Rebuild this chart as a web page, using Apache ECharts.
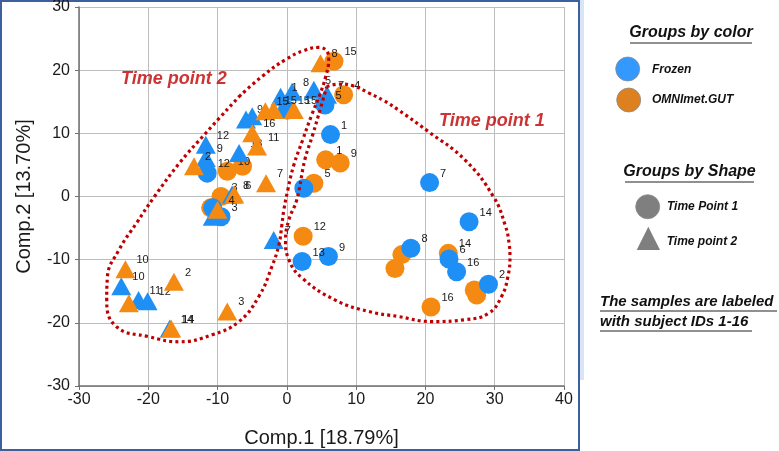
<!DOCTYPE html>
<html>
<head>
<meta charset="utf-8">
<script src="https://cdn.jsdelivr.net/npm/echarts@6/dist/echarts.min.js"></script>
<style>html,body{margin:0;padding:0;background:#fff}#c{width:779px;height:451px}</style>
</head>
<body>
<div id="c"></div>
<script>
// x, y, subject ID
const frozenTP1 = [
  [6.3, 9.8, '1'], [5.5, 14.5, '5'], [0.05, 13.7, '15'], [2.45, 1.3, ''],
  [-11.5, 3.7, '12'], [-10.7, -1.8, ''], [-9.5, -3.2, '3'], [2.2, -10.3, '13'],
  [6.0, -9.5, '9'], [17.9, -8.2, '8'], [20.6, 2.2, '7'], [26.3, -4.0, '14'],
  [23.4, -9.9, '6'], [24.5, -11.9, '16'], [29.1, -13.9, '2']
];
const omniTP1 = [
  [6.8, 21.4, '15'], [8.2, 16.1, '4'], [5.6, 5.8, '1'], [7.7, 5.3, '9'],
  [3.9, 2.1, '5'], [-8.6, 4.0, '10'], [-6.4, 4.8, ''], [-9.5, 0.0, '3'],
  [-11.0, -1.8, ''], [2.35, -6.3, '12'], [15.6, -11.4, ''], [16.6, -9.2, '8'],
  [23.3, -9.0, '14'], [27.05, -14.8, '6'], [27.4, -15.6, '2'], [20.8, -17.5, '16']
];
const frozenTP2 = [
  [0.76, 16.6, '8'], [3.9, 16.9, '5'], [5.8, 16.1, '7'], [-0.9, 15.8, '1'],
  [-5.0, 12.7, ''], [-5.9, 12.2, '9'], [-11.7, 8.2, '12'], [-11.7, 6.1, '9'],
  [-6.9, 6.9, '13'], [-7.9, 0.3, '8'], [-10.7, -3.2, ''], [-1.9, -6.9, '7'],
  [-23.9, -14.2, '10'], [-21.4, -16.4, '11'], [-20.1, -16.6, '12'], [-16.9, -20.9, '14']
];
const omniTP2 = [
  [4.85, 21.1, '8'], [1.0, 13.7, '15'], [-3.1, 13.5, '15'], [-1.9, 13.7, '15'],
  [-5.0, 10.0, '16'], [-4.3, 7.9, '11'], [-3.0, 2.1, '7'], [-13.4, 4.8, '2'],
  [-7.6, 0.3, '6'], [-10.0, -2.1, '4'], [-23.3, -11.5, '10'], [-22.8, -16.9, ''],
  [-16.3, -13.5, '2'], [-16.7, -20.9, '14'], [-8.6, -18.2, '3']
];
// outlines of the dotted groupings (data coordinates)
const outlineTP1 = [
  [5.76, 17.4], [7.48, 17.8], [9.64, 17.5], [11.8, 16.4], [13.96, 15.2], [16.1, 13.7],
  [20.4, 10.3], [25.7, 5.8], [29.8, 0], [31.5, -4.5], [32.1, -7.65], [32.2, -9.55],
  [31.9, -12.7], [31.0, -15.8], [29.1, -18.5], [25.7, -19.5], [20.9, -19.8], [16.1, -19.0],
  [11.8, -18.2], [7.0, -16.4], [2.2, -12.9], [0.29, -10.0], [-0.19, -6.9], [0.29, -3.7],
  [1.44, -0.5], [2.59, 5.8], [3.74, 9.8], [4.89, 14.1], [5.76, 17.4]
];
const outlineTP2 = [
  [-6.91, 15.8], [-3.6, 19.0], [-0.14, 21.7], [2.45, 23.1], [4.6, 23.6], [5.9, 22.8],
  [6.04, 21.7], [5.61, 19.0], [4.75, 16.1], [3.6, 12.95], [2.3, 9.0], [1.01, 5.0],
  [0.14, 1.06], [-0.43, -2.1], [-0.72, -4.5], [-1.15, -7.65], [-2.16, -11.1], [-4.03, -15.8],
  [-6.91, -19.8], [-10.8, -21.9], [-15.5, -23.0], [-19.9, -22.2], [-24.6, -20.6], [-26.0, -16.4],
  [-25.9, -12.75], [-24.2, -8.4], [-21.7, -4.2], [-19.1, 0], [-15.5, 5.3], [-11.65, 10.1], [-6.91, 15.8]
];
const groupTexts = [[-16.3, 18.65, 'Time point 2'], [29.6, 11.9, 'Time point 1']];
const xTicks = {min: -30, max: 40, step: 10};
const yTicks = {min: -30, max: 30, step: 10};

const FONT = '"Liberation Sans", Arial, sans-serif';
const BLUE = '#1E8FF5', ORANGE = '#F58A12', RED = '#C00000';

function scatter(name, data, symbol, color, size, z) {
  return {
    name: name, type: 'scatter', symbol: symbol, symbolSize: size, z: z,
    data: data.map(d => ({value: [d[0], d[1]], label: {formatter: d[2]}})),
    itemStyle: {color: color, opacity: 1},
    label: {show: true, position: 'right', distance: 1, offset: [0, -9],
            fontSize: 11, color: '#1a1a1a', fontFamily: FONT},
    emphasis: {disabled: true}
  };
}
function outline(data) {
  return {type: 'line', data: data, smooth: 0.45, showSymbol: false, z: 10, silent: true,
    lineStyle: {color: RED, width: 3.2, type: [3, 3.2], cap: 'butt'}};
}

const chart = echarts.init(document.getElementById('c'));
const underline = (x1, x2, y) => ({type: 'line', shape: {x1: x1, y1: y, x2: x2, y2: y},
  style: {stroke: '#222', lineWidth: 1.2}});
const ltext = (x, y, t, size, align) => ({type: 'text', x: x, y: y,
  style: {text: t, fontSize: size, fontWeight: 'bold', fontStyle: 'italic', fontFamily: FONT,
          fill: '#111', textAlign: align || 'left', textVerticalAlign: 'middle'}});

chart.setOption({
  animation: false,
  backgroundColor: '#fff',
  grid: {left: 79, right: 215, top: 7, bottom: 65, containLabel: false, outerBoundsMode: 'none'},
  xAxis: {
    type: 'value', min: xTicks.min, max: xTicks.max, interval: xTicks.step,
    axisLine: {show: true, onZero: false, lineStyle: {color: '#707070', width: 1.5}},
    axisTick: {show: true, length: 4, lineStyle: {color: '#707070'}},
    splitLine: {show: true, lineStyle: {color: '#bdbdbd', width: 1}},
    axisLabel: {fontSize: 16, color: '#1a1a1a', margin: 6, fontFamily: FONT},
    name: 'Comp.1 [18.79%]', nameLocation: 'middle', nameGap: 42,
    nameTextStyle: {fontSize: 20, color: '#1a1a1a', fontFamily: FONT}
  },
  yAxis: {
    type: 'value', min: yTicks.min, max: yTicks.max, interval: yTicks.step,
    axisLine: {show: true, onZero: false, lineStyle: {color: '#707070', width: 1.5}},
    axisTick: {show: true, length: 4, lineStyle: {color: '#707070'}},
    splitLine: {show: true, lineStyle: {color: '#bdbdbd', width: 1}},
    axisLabel: {fontSize: 16, color: '#1a1a1a', margin: 9, fontFamily: FONT},
    name: 'Comp.2 [13.70%]', nameLocation: 'middle', nameGap: 45, nameRotate: 90,
    nameTextStyle: {fontSize: 20, color: '#1a1a1a', fontFamily: FONT}
  },
  series: [
    scatter('OMNImet.GUT TP1', omniTP1, 'circle', ORANGE, 19, 2),
    scatter('Frozen TP1', frozenTP1, 'circle', BLUE, 19, 3),
    scatter('Frozen TP2', frozenTP2, 'triangle', BLUE, [20, 18], 4),
    scatter('OMNImet.GUT TP2', omniTP2, 'triangle', ORANGE, [20, 18], 5),
    outline(outlineTP1),
    outline(outlineTP2),
    {type: 'scatter', symbolSize: 0, z: 11, silent: true,
     data: groupTexts.map(d => ({value: [d[0], d[1]], label: {formatter: d[2]}})),
     label: {show: true, position: 'inside', fontSize: 18, fontWeight: 'bold', fontStyle: 'italic',
             color: RED, fontFamily: FONT}}
  ],
  graphic: [
    {type: 'rect', shape: {x: 1, y: 1, width: 578, height: 449}, silent: true,
     style: {fill: 'none', stroke: '#3e5f9e', lineWidth: 2}},
    {type: 'rect', shape: {x: 580, y: 0, width: 4, height: 380}, silent: true,
     style: {fill: '#d8e5f4'}},
    ltext(691, 33, 'Groups by color', 16, 'center'), underline(630, 752, 43),
    {type: 'circle', shape: {cx: 627.7, cy: 69, r: 12}, style: {fill: '#3399ff', stroke: '#8a8a8a', lineWidth: 0.8}},
    ltext(652, 70, 'Frozen', 12),
    {type: 'circle', shape: {cx: 628.7, cy: 100, r: 12}, style: {fill: '#dd8020', stroke: '#8a8a8a', lineWidth: 0.8}},
    ltext(652, 100, 'OMNImet.GUT', 12),
    ltext(689.5, 172, 'Groups by Shape', 16, 'center'), underline(625, 754, 182),
    {type: 'circle', shape: {cx: 647.7, cy: 206.7, r: 12}, style: {fill: '#7f7f7f', stroke: '#8a8a8a', lineWidth: 0.8}},
    ltext(667, 207, 'Time Point 1', 12),
    {type: 'polygon', shape: {points: [[636.7, 250], [660, 250], [648.3, 226.7]]}, style: {fill: '#7f7f7f'}},
    ltext(666.7, 242, 'Time point 2', 12),
    ltext(600, 302, 'The samples are labeled', 15), underline(600, 777, 311),
    ltext(600, 322, 'with subject IDs 1-16', 15), underline(600, 752, 331)
  ]
});
</script>
</body>
</html>
